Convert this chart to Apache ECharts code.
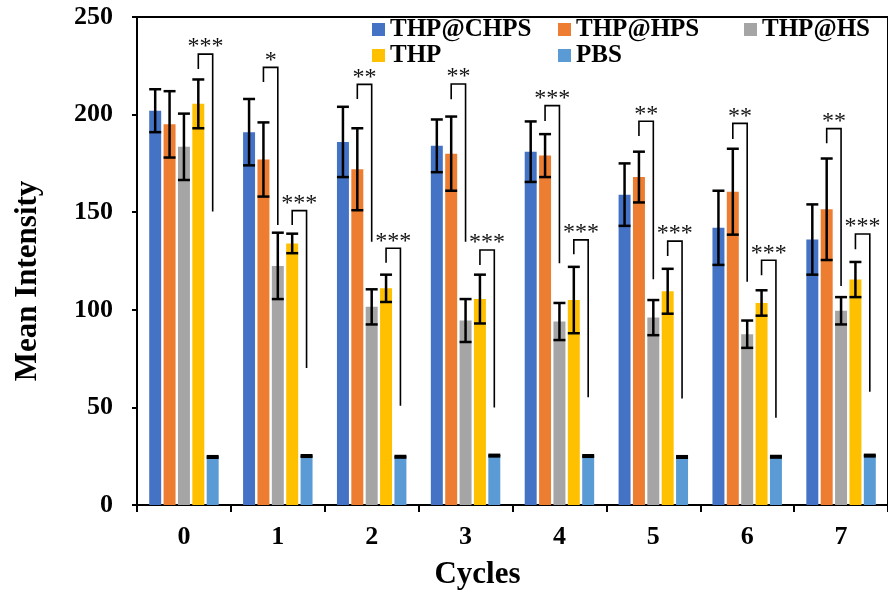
<!DOCTYPE html>
<html>
<head>
<meta charset="utf-8">
<script src="https://cdn.jsdelivr.net/npm/echarts@6/dist/echarts.min.js"></script>
<style>
  html, body { margin: 0; padding: 0; background: #fff; }
  #chart { width: 888px; height: 599px; }
</style>
</head>
<body>
<div id="chart"></div>
<script>
// cycles on the x axis
const categories = ['0', '1', '2', '3', '4', '5', '6', '7'];
const seriesNames = ['THP@CHPS', 'THP@HPS', 'THP@HS', 'THP', 'PBS'];
const colors = ['#4472C4', '#ED7D31', '#A5A5A5', '#FFC000', '#5B9BD5'];

// mean intensity and error (±) per group
const chps = [202, 191, 186, 184, 181, 159, 142, 136];
const chpsErr = [11, 17, 18, 13.5, 15.5, 16, 19, 18];
const hps = [195, 177, 172, 180, 179, 168, 160.5, 151.5];
const hpsErr = [17, 19, 21, 19, 11, 13, 22, 26];
const hs = [183.5, 122.5, 101.5, 94.5, 94, 96, 87.5, 99.5];
const hsErr = [17, 17, 9, 11, 9.5, 9, 7, 7];
const thp = [205.5, 134, 111, 105.5, 105, 109.5, 103.5, 115.5];
const thpErr = [12.5, 5, 7, 12.5, 17, 11.5, 6.5, 9];
const pbs = [24.6, 25.1, 24.7, 25.3, 25.1, 24.6, 24.7, 25.3];
const pbsErr = [0.4, 0.4, 0.4, 0.4, 0.4, 0.4, 0.4, 0.4];

const yTicks = [0, 50, 100, 150, 200, 250];

// significance brackets: category, from bar -> to bar, heights in data units
const sigCat = [0, 1, 1, 2, 2, 3, 3, 4, 4, 5, 5, 6, 6, 7, 7];
const sigFrom = [3, 1, 3, 1, 3, 1, 3, 1, 3, 1, 3, 1, 3, 1, 3];
const sigTo = [4, 2, 4, 2, 4, 2, 4, 2, 4, 2, 4, 2, 4, 2, 4];
const sigTop = [231, 224.2, 150.8, 215.5, 131.5, 215.7, 130.6, 204.6, 135.8, 196.6, 135.2, 195.5, 125.4, 192.8, 138.8];
const sigLeftEnd = [223.4, 216.7, 143.4, 208, 124.1, 207.8, 123, 196.7, 128.4, 189, 127.6, 187.5, 117.7, 185.3, 131];
const sigRightEnd = [150.3, 143.4, 70.2, 134.9, 50.9, 134.9, 50, 123.8, 55.2, 115.6, 54.5, 114.4, 44.7, 112.2, 58];
const sigLabel = ['***', '*', '***', '**', '***', '**', '***', '***', '***', '**', '***', '**', '***', '**', '***'];

const means = [chps, hps, hs, thp, pbs];
const errs = [chpsErr, hpsErr, hsErr, thpErr, pbsErr];

const FONT = 'Liberation Serif';
const CAT_GAP = 0.26;
const BAR_GAP = 0.2;
const N = seriesNames.length;

// x centre of bar s inside a category, same arithmetic as the bar layout
function barX(api, cat, s) {
  const center = api.coord([cat, 0])[0];
  const band = api.size([1, 0])[0];
  const groupW = band * (1 - CAT_GAP);
  const barW = groupW / (N + (N - 1) * BAR_GAP);
  const step = barW * (1 + BAR_GAP);
  return { x: center + (s - (N - 1) / 2) * step, w: barW };
}

const errData = [];
means.forEach((arr, s) => {
  arr.forEach((v, c) => errData.push([c, v, errs[s][c], s]));
});

const sigData = sigCat.map((c, i) => [c, sigTop[i], i]);

const chart = echarts.init(document.getElementById('chart'));

const barSeries = seriesNames.map((name, s) => ({
  name,
  type: 'bar',
  data: means[s],
  barGap: (BAR_GAP * 100) + '%',
  barCategoryGap: (CAT_GAP * 100) + '%',
  itemStyle: { color: colors[s] },
  z: 2
}));

const errorSeries = {
  type: 'custom',
  data: errData,
  encode: { x: 0, y: 1 },
  z: 5,
  silent: true,
  renderItem(params, api) {
    const cat = api.value(0);
    const mean = api.value(1);
    const err = api.value(2);
    const s = api.value(3);
    const pos = barX(api, cat, s);
    const yHi = api.coord([cat, mean + err])[1];
    const yLo = api.coord([cat, mean - err])[1];
    const half = pos.w / 2;
    const style = { stroke: '#000', lineWidth: 2.5 };
    return {
      type: 'group',
      children: [
        { type: 'line', shape: { x1: pos.x, y1: yHi, x2: pos.x, y2: yLo }, style },
        { type: 'line', shape: { x1: pos.x - half, y1: yHi, x2: pos.x + half, y2: yHi }, style },
        { type: 'line', shape: { x1: pos.x - half, y1: yLo, x2: pos.x + half, y2: yLo }, style }
      ]
    };
  }
};

const sigSeries = {
  type: 'custom',
  data: sigData,
  encode: { x: 0, y: 1 },
  z: 6,
  silent: true,
  renderItem(params, api) {
    const i = api.value(2);
    const cat = sigCat[i];
    const xa = barX(api, cat, sigFrom[i]).x;
    const xb = barX(api, cat, sigTo[i]).x;
    const yTop = api.coord([cat, sigTop[i]])[1];
    const yL = api.coord([cat, sigLeftEnd[i]])[1];
    const yR = api.coord([cat, sigRightEnd[i]])[1];
    const style = { stroke: '#000', lineWidth: 1.6, fill: null };
    return {
      type: 'group',
      children: [
        { type: 'polyline', shape: { points: [[xa, yL], [xa, yTop], [xb, yTop], [xb, yR]] }, style },
        {
          type: 'text',
          style: {
            text: sigLabel[i],
            x: (xa + xb) / 2,
            y: yTop - 7,
            align: 'center',
            verticalAlign: 'middle',
            font: 'normal 24px "' + FONT + '"',
            fill: '#111'
          }
        }
      ]
    };
  }
};

const legendPos = [
  { left: 372, top: 17 },
  { left: 558, top: 17 },
  { left: 744, top: 17 },
  { left: 372, top: 43 },
  { left: 558, top: 43 }
];

const option = {
  animation: false,
  backgroundColor: '#fff',
  textStyle: { fontFamily: FONT },
  legend: seriesNames.map((name, s) => ({
    data: [name],
    left: legendPos[s].left,
    top: legendPos[s].top,
    padding: 0,
    itemWidth: 13,
    itemHeight: 13,
    icon: 'rect',
    selectedMode: false,
    textStyle: { fontFamily: FONT, fontWeight: 'bold', fontSize: 25, color: '#000' }
  })),
  grid: {
    left: 137, top: 17, width: 758, bottom: 94,
    show: true, borderColor: '#000', borderWidth: 2, backgroundColor: 'transparent'
  },
  xAxis: {
    type: 'category',
    data: categories,
    name: 'Cycles',
    nameLocation: 'middle',
    nameGap: 54,
    // plot is cropped on the right, so the title sits left of the grid centre
    nameTextStyle: { fontFamily: FONT, fontWeight: 'bold', fontSize: 31, color: '#000', padding: [0, 70, 0, 0] },
    axisLine: { lineStyle: { color: '#000', width: 2 } },
    axisTick: { show: true, length: 7, lineStyle: { color: '#000', width: 2 } },
    axisLabel: { fontFamily: FONT, fontWeight: 'bold', fontSize: 26, color: '#000', margin: 19 },
    splitLine: { show: false }
  },
  yAxis: {
    type: 'value',
    min: yTicks[0],
    max: yTicks[yTicks.length - 1],
    interval: 50,
    name: 'Mean Intensity',
    nameLocation: 'middle',
    nameGap: 94,
    nameTextStyle: { fontFamily: FONT, fontWeight: 'bold', fontSize: 31, color: '#000', padding: [0, 40, 0, 0] },
    axisLine: { show: true, lineStyle: { color: '#000', width: 2 } },
    axisTick: { show: true, length: 5, lineStyle: { color: '#000', width: 2 } },
    axisLabel: { fontFamily: FONT, fontWeight: 'bold', fontSize: 26, color: '#000', margin: 24 },
    splitLine: { show: false }
  },
  series: [...barSeries, errorSeries, sigSeries]
};

chart.setOption(option);
</script>
</body>
</html>
